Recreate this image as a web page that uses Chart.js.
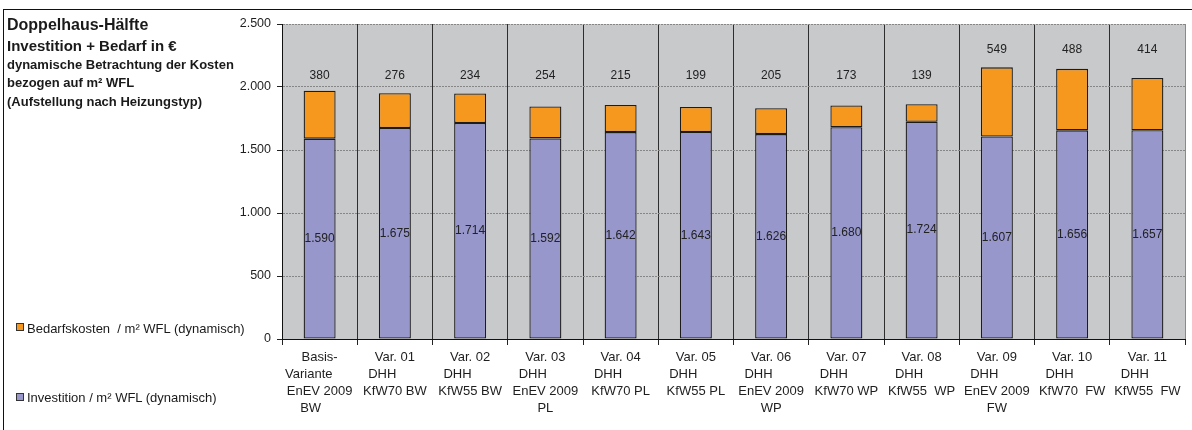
<!DOCTYPE html>
<html lang="de">
<head>
<meta charset="utf-8">
<title>Doppelhaus-Hälfte – Investition + Bedarf</title>
<script src="https://cdn.jsdelivr.net/npm/chart.js@4.4.0/dist/chart.umd.min.js"></script>
<style>
    html, body { margin: 0; padding: 0; background: #fff; }
    body {
        width: 1192px; height: 430px; position: relative; overflow: hidden;
        font-family: "Liberation Sans", Arial, sans-serif; color: #1a1a1a;
    }
    #frame { position: absolute; left: 3px; top: 9px; width: 1200px; height: 440px; border: 1px solid #111; }
    #chart { position: absolute; left: 0; top: 0; }
    .t { position: absolute; left: 7px; font-weight: bold; white-space: nowrap; line-height: 1; }
    .lg { position: absolute; left: 27px; font-size: 13px; line-height: 1; white-space: pre; }
    .sw { position: absolute; left: 16px; width: 6px; height: 6px; border: 1px solid #333; }
</style>
</head>
<body>
<div id="frame"></div>
<canvas id="chart" width="1192" height="430"></canvas>

<div class="t" style="top:17px;font-size:16px">Doppelhaus-Hälfte</div>
<div class="t" style="top:38px;font-size:15px">Investition + Bedarf in €</div>
<div class="t" style="top:58px;font-size:13px">dynamische Betrachtung der Kosten</div>
<div class="t" style="top:76px;font-size:13px">bezogen auf m² WFL</div>
<div class="t" style="top:95px;font-size:13px">(Aufstellung nach Heizungstyp)</div>

<div class="sw" style="top:323px;background:#f7981e"></div>
<div class="lg" style="top:322px">Bedarfskosten  / m² WFL (dynamisch)</div>
<div class="sw" style="top:393px;background:#9797cb"></div>
<div class="lg" style="top:391px">Investition / m² WFL (dynamisch)</div>

<script>
// Chart data
const categories = [
    ['Basis-', 'Variante      ', 'EnEV 2009', 'BW     '],
    ['Var. 01', 'DHH       ', 'KfW70 BW'],
    ['Var. 02', 'DHH       ', 'KfW55 BW'],
    ['Var. 03', 'DHH       ', 'EnEV 2009', 'PL'],
    ['Var. 04', 'DHH       ', 'KfW70 PL'],
    ['Var. 05', 'DHH       ', 'KfW55 PL'],
    ['Var. 06', 'DHH       ', 'EnEV 2009', 'WP'],
    ['Var. 07', 'DHH       ', 'KfW70 WP'],
    ['Var. 08', 'DHH       ', 'KfW55  WP'],
    ['Var. 09', 'DHH       ', 'EnEV 2009', 'FW'],
    ['Var. 10', 'DHH       ', 'KfW70  FW'],
    ['Var. 11', 'DHH       ', 'KfW55  FW']
];
const investition = [1590, 1675, 1714, 1592, 1642, 1643, 1626, 1680, 1724, 1607, 1656, 1657];
const bedarf = [380, 276, 234, 254, 215, 199, 205, 173, 139, 549, 488, 414];
const yTicks = [0, 500, 1000, 1500, 2000, 2500];

// German number format: 1.590
function fmt(v) {
    return String(v).replace(/\B(?=(\d{3})+(?!\d))/g, '.');
}

// Grey plot background
const plotBg = {
    id: 'plotBg',
    beforeDraw(chart) {
        const a = chart.chartArea;
        const ctx = chart.ctx;
        ctx.save();
        ctx.fillStyle = '#c8c9cb';
        ctx.fillRect(a.left, a.top, a.right - a.left, a.bottom - a.top);
        ctx.restore();
    }
};

// Value labels
const valueLabels = {
    id: 'valueLabels',
    afterDatasetsDraw(chart) {
        const ctx = chart.ctx;
        const y = chart.scales.y;
        const inv = chart.getDatasetMeta(0).data;
        const bed = chart.getDatasetMeta(1).data;
        ctx.save();
        ctx.font = '12px "Liberation Sans", Arial, sans-serif';
        ctx.fillStyle = '#222';
        ctx.textAlign = 'center';
        ctx.textBaseline = 'middle';
        inv.forEach((bar, i) => {
            ctx.fillText(fmt(investition[i]), bar.x, (bar.y + bar.base) / 2);
        });
        bed.forEach((bar, i) => {
            const total = investition[i] + bedarf[i];
            const ly = y.getPixelForValue(total > 2000 ? 2300 : 2090);
            ctx.fillText(fmt(bedarf[i]), bar.x, ly);
        });
        ctx.restore();
    }
};

const barStyle = {
    borderColor: '#1c1c1c',
    borderWidth: 1.3,
    borderSkipped: false,
    barPercentage: 0.425,
    categoryPercentage: 1
};

new Chart(document.getElementById('chart'), {
    type: 'bar',
    data: {
        labels: categories,
        datasets: [
            Object.assign({ label: 'Investition / m² WFL (dynamisch)', data: investition, backgroundColor: '#9797cb' }, barStyle),
            Object.assign({ label: 'Bedarfskosten  / m² WFL (dynamisch)', data: bedarf, backgroundColor: '#f7981e' }, barStyle)
        ]
    },
    options: {
        responsive: false,
        animation: false,
        layout: { padding: { left: 222, top: 24, right: 7, bottom: 0 } },
        plugins: {
            legend: { display: false },
            tooltip: { enabled: false }
        },
        scales: {
            x: {
                stacked: true,
                offset: true,
                grid: {
                    offset: true,
                    color: ctx => ctx.type === 'tick' ? '#2e2e2e' : '#8a8a8a',
                    lineWidth: 1,
                    tickLength: 6,
                    tickColor: '#222'
                },
                border: { color: '#111' },
                ticks: {
                    autoSkip: false,
                    maxRotation: 0,
                    minRotation: 0,
                    padding: 4,
                    color: '#1e1e1e',
                    font: { family: '"Liberation Sans", Arial, sans-serif', size: 13, lineHeight: 1.3 }
                },
                afterFit: s => { s.height = 91; }
            },
            y: {
                stacked: true,
                min: 0,
                max: 2500,
                grid: {
                    color: '#868686',
                    lineWidth: 1,
                    tickLength: 5,
                    tickColor: '#222'
                },
                border: { color: '#111', dash: [2, 1] },
                ticks: {
                    padding: 6,
                    color: '#1e1e1e',
                    font: { family: '"Liberation Sans", Arial, sans-serif', size: 12.5 },
                    callback: v => fmt(v)
                },
                afterBuildTicks: s => { s.ticks = yTicks.map(v => ({ value: v })); },
                afterFit: s => { s.width = 60; }
            }
        }
    },
    plugins: [plotBg, valueLabels]
});
</script>
</body>
</html>
